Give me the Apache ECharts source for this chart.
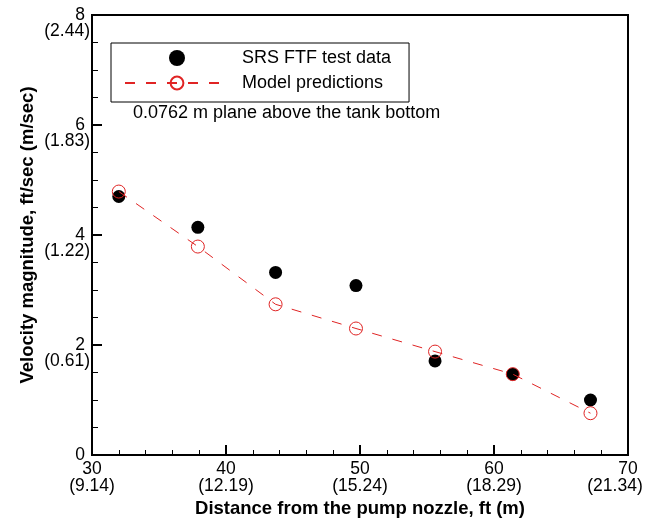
<!DOCTYPE html>
<html>
<head>
<meta charset="utf-8">
<script src="https://cdn.jsdelivr.net/npm/echarts@6/dist/echarts.min.js"></script>
<style>
html,body{margin:0;padding:0;background:#fff;}
#chart{width:645px;height:521px;}
</style>
</head>
<body>
<div id="chart"></div>
<script>
// ---- data ----
var testX = [32.0, 37.9, 43.7, 49.7, 55.6, 61.4, 67.2];
var testY = [4.70, 4.14, 3.32, 3.08, 1.71, 1.47, 1.00];
var modelX = [32.0, 37.9, 43.7, 49.7, 55.6, 61.4, 67.2];
var modelY = [4.79, 3.79, 2.74, 2.30, 1.88, 1.47, 0.76];
var xTickFt = [30, 40, 50, 60, 70];
var xTickM = ['9.14', '12.19', '15.24', '18.29', '21.34'];
var yTickFt = [0, 2, 4, 6, 8];
var yTickM = ['', '0.61', '1.22', '1.83', '2.44'];
var seriesNames = ['SRS FTF test data', 'Model predictions'];
var annotation = '0.0762 m plane above the tank bottom';
var xName = 'Distance from the pump nozzle, ft (m)';
var yName = 'Velocity magnitude, ft/sec (m/sec)';

var FONT = '"Liberation Sans", Arial, sans-serif';
var RED = '#e02424';
var TICKFS = 17.5;

function pairs(xs, ys) { return xs.map(function (x, i) { return [x, ys[i]]; }); }

var chart = echarts.init(document.getElementById('chart'), null, {renderer: 'canvas'});
chart.setOption({
  animation: false,
  backgroundColor: '#fff',
  grid: {left: 92, right: 17, top: 15, bottom: 66, containLabel: false, outerBoundsMode: 'none',
         show: true, borderColor: '#000', borderWidth: 2, backgroundColor: 'transparent'},
  title: {
    text: annotation, left: 133, top: 104, padding: 0,
    textStyle: {fontFamily: FONT, fontSize: 18, fontWeight: 'normal', color: '#000', lineHeight: 18}
  },
  legend: {
    orient: 'vertical', left: 111, top: 43,
    padding: [6, 18, 10, 13], itemGap: 7,
    itemWidth: 104, itemHeight: 16,
    borderColor: '#000', borderWidth: 1, backgroundColor: '#fff',
    textStyle: {fontFamily: FONT, fontSize: 18, lineHeight: 16, color: '#000', padding: [0, 0, 0, 8]},
    data: seriesNames
  },
  xAxis: {
    type: 'value', min: 30, max: 70, interval: 10,
    name: xName, nameLocation: 'middle', nameGap: 44, nameMoveOverlap: false,
    nameTextStyle: {fontFamily: FONT, fontSize: 18.5, fontWeight: 'bold', color: '#000'},
    axisLine: {show: true, onZero: false, lineStyle: {color: '#000', width: 2}},
    axisTick: {show: true, inside: true, length: 10, lineStyle: {color: '#000', width: 2}},
    minorTick: {show: true, splitNumber: 5, length: 5, lineStyle: {color: '#000', width: 1}},
    splitLine: {show: false},
    axisLabel: {
      margin: 6, color: '#000', fontFamily: FONT, fontSize: TICKFS, lineHeight: 17,
      rich: {
        a: {fontFamily: FONT, fontSize: TICKFS, color: '#000', lineHeight: 17},
        b: {fontFamily: FONT, fontSize: TICKFS, color: '#000', lineHeight: 17},
        e: {fontFamily: FONT, fontSize: TICKFS, color: '#000', lineHeight: 17, padding: [0, 26, 0, 0]}
      },
      formatter: function (v) {
        var i = xTickFt.indexOf(v);
        if (i < 0) return '';
        var last = i === xTickFt.length - 1;
        return '{a|' + xTickFt[i] + '}\n{' + (last ? 'e' : 'b') + '|(' + xTickM[i] + ')}';
      }
    }
  },
  yAxis: {
    type: 'value', min: 0, max: 8, interval: 2,
    name: yName, nameLocation: 'middle', nameGap: 55, nameRotate: 90, nameMoveOverlap: false,
    nameTextStyle: {fontFamily: FONT, fontSize: 18.5, fontWeight: 'bold', color: '#000'},
    axisLine: {show: true, onZero: false, lineStyle: {color: '#000', width: 2}},
    axisTick: {show: true, inside: true, length: 10, lineStyle: {color: '#000', width: 2}},
    minorTick: {show: true, splitNumber: 4, length: 6, lineStyle: {color: '#000', width: 1}},
    splitLine: {show: false},
    axisLabel: {
      margin: 2, color: '#000', fontFamily: FONT, fontSize: TICKFS, lineHeight: 16, align: 'right',
      rich: {
        s: {fontFamily: FONT, fontSize: TICKFS, color: '#000', lineHeight: 16, padding: [0, 5, 0, 0]},
        m: {fontFamily: FONT, fontSize: TICKFS, color: '#000', lineHeight: 16}
      },
      formatter: function (v) {
        var i = yTickFt.indexOf(v);
        if (i < 0) return '';
        if (yTickM[i] === '') return '{s|' + yTickFt[i] + '}';
        return '{m| }\n{s|' + yTickFt[i] + '}\n{m|(' + yTickM[i] + ')}';
      }
    }
  },
  series: [
    {
      name: seriesNames[0], type: 'scatter', symbol: 'circle', symbolSize: 13,
      itemStyle: {color: '#000', opacity: 1},
      data: pairs(testX, testY), z: 2
    },
    {
      name: seriesNames[1], type: 'line', symbol: 'circle', symbolSize: 13, showSymbol: true,
      itemStyle: {color: 'rgba(255,255,255,0)', borderColor: RED, borderWidth: 1},
      lineStyle: {color: RED, width: 1, type: [10, 11]},
      data: pairs(modelX, modelY), z: 3
    }
  ]
});
</script>
</body>
</html>
